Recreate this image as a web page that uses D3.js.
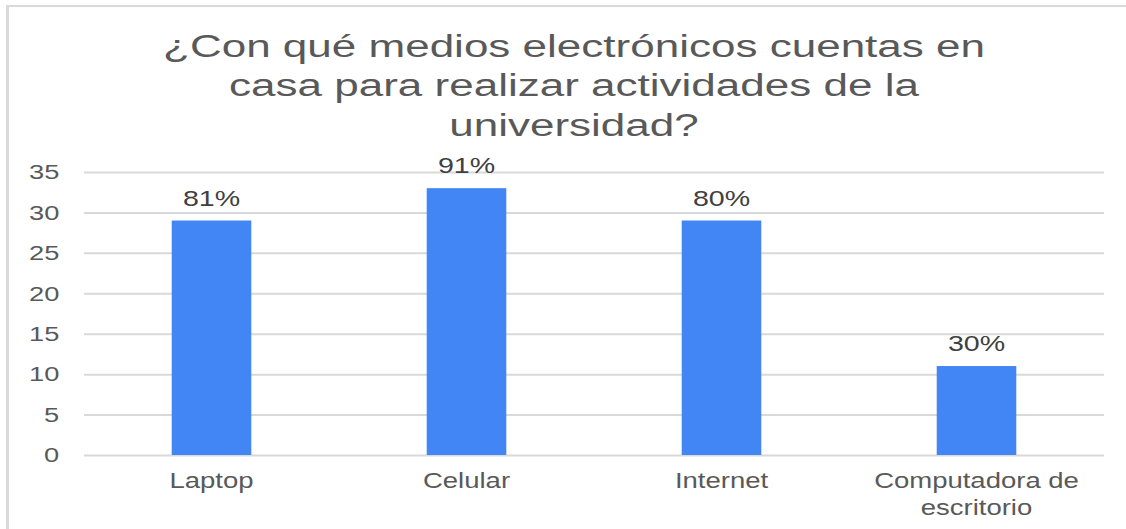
<!DOCTYPE html>
<html><head><meta charset="utf-8">
<script src="https://cdn.jsdelivr.net/npm/d3@7/dist/d3.min.js"></script>
<style>body{margin:0;background:#fff}svg{display:block}</style>
</head><body>
<svg id="c" width="1126" height="529"></svg>
<script>
const categories = ["Laptop", "Celular", "Internet", "Computadora de escritorio"];
const values = [29, 33, 29, 11];
const percentLabels = ["81%", "91%", "80%", "30%"];
const yTicks = [0, 5, 10, 15, 20, 25, 30, 35];
const titleLines = ["¿Con qué medios electrónicos cuentas en", "casa para realizar actividades de la", "universidad?"];
const categoryLines = [["Laptop"], ["Celular"], ["Internet"], ["Computadora de", "escritorio"]];

(function () {
const svg = d3.select("#c");
const W = 1126, H = 529;
const font = "'Liberation Sans', Arial, sans-serif";
svg.append("rect").attr("x", 0).attr("y", 0).attr("width", W).attr("height", H).attr("fill", "#fff");
svg.append("line").attr("x1", 6).attr("x2", W).attr("y1", 6).attr("y2", 6)
  .attr("stroke", "#d9d9d9").attr("stroke-width", 2);
svg.append("line").attr("x1", 7.5).attr("x2", 7.5).attr("y1", 5).attr("y2", H)
  .attr("stroke", "#d9d9d9").attr("stroke-width", 3);

const mL = 84, mR = 1104, mT = 172, mB = 455;
const x = d3.scaleBand().domain(categories).range([mL, mR]).paddingInner(0.688).paddingOuter(0.344);
const y = d3.scaleLinear().domain([0, 35]).range([mB, mT]);

const yAxis = d3.axisLeft(y).tickValues(yTicks).tickSize(-(mR - mL)).tickPadding(19);
const gy = svg.append("g").attr("transform", `translate(${mL},0)`).call(yAxis);
gy.select(".domain").remove();
gy.selectAll(".tick line").attr("stroke", "#d9d9d9").attr("stroke-width", 2);
gy.selectAll(".tick text").attr("fill", "#595959").attr("font-family", font).attr("font-size", 21)
  .attr("transform", "scale(1.3,1)");

svg.append("g").selectAll("rect").data(categories).join("rect")
  .attr("x", d => x(d)).attr("width", x.bandwidth())
  .attr("y", (d, i) => y(values[i])).attr("height", (d, i) => y(0) - y(values[i]))
  .attr("fill", "#4285f4");

svg.append("g").selectAll("g").data(categories).join("g")
  .attr("transform", (d, i) => `translate(${x(d) + x.bandwidth() / 2},${y(values[i]) - 15}) scale(1.3,1)`)
  .append("text")
  .attr("text-anchor", "middle").attr("fill", "#404040").attr("font-family", font).attr("font-size", 22)
  .text((d, i) => percentLabels[i]);

const gx = svg.append("g");
categories.forEach((c, i) => {
  const t = gx.append("g").attr("transform", `translate(${x(c) + x.bandwidth() / 2},488) scale(1.25,1)`)
    .append("text").attr("text-anchor", "middle").attr("fill", "#595959").attr("font-family", font).attr("font-size", 22);
  categoryLines[i].forEach((l, j) => t.append("tspan").attr("x", 0).attr("y", j * 27).text(l));
});

const tt = svg.append("g").attr("transform", "translate(574,0) scale(1.42,1)")
  .append("text").attr("text-anchor", "middle").attr("fill", "#595959")
  .attr("font-family", font).attr("font-size", 31);
titleLines.forEach((l, j) => tt.append("tspan").attr("x", 0).attr("y", 57 + j * 39.5).text(l));
})();
</script>
</body></html>
